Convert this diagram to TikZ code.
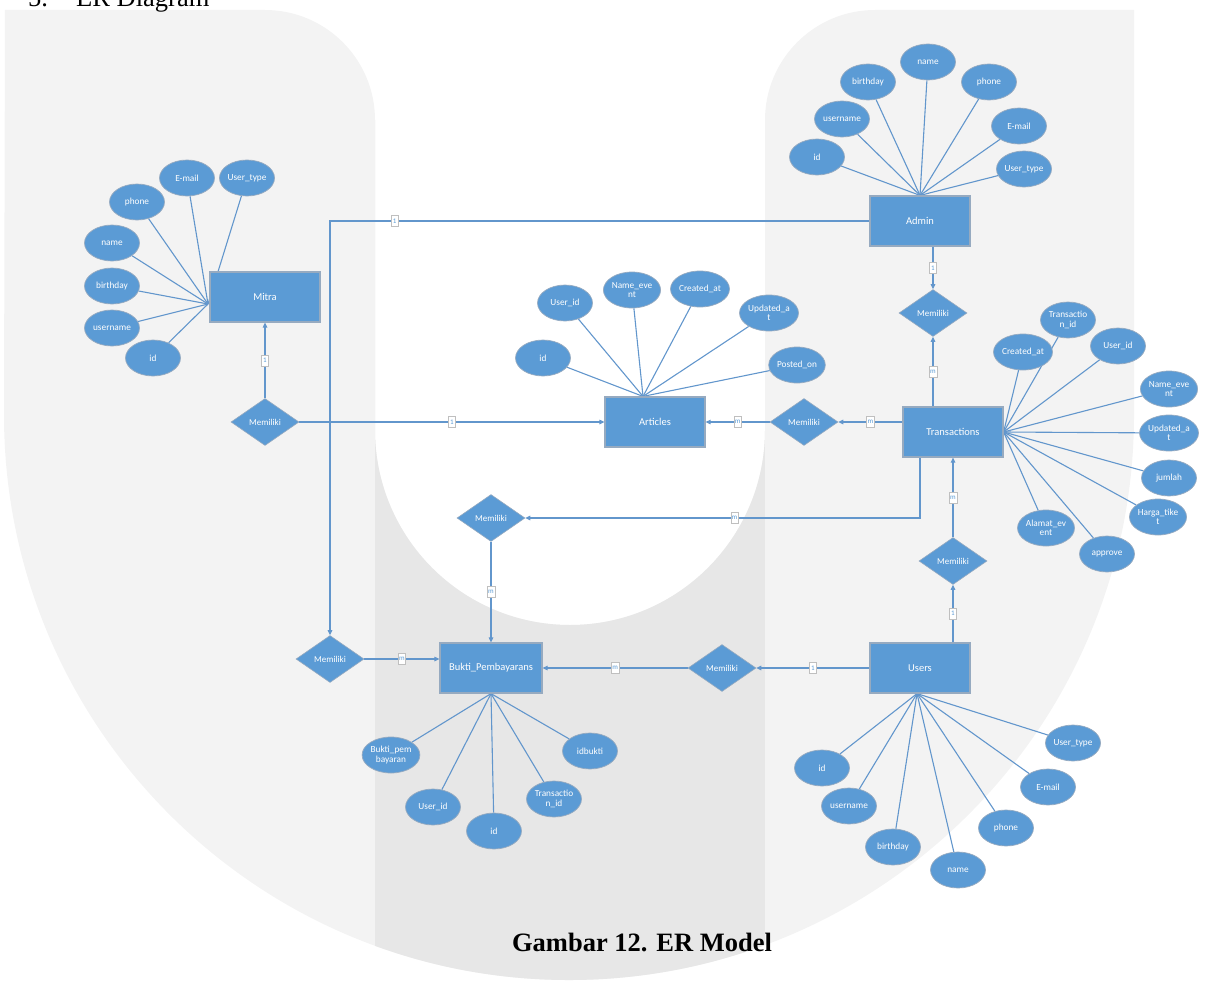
\documentclass[tikz,border=0pt]{standalone}
\usepackage{fontspec}
\setmainfont{Liberation Serif}
\newfontfamily\erfont{Carlito}
\usetikzlibrary{shapes.geometric,arrows.meta}
\definecolor{erblue}{RGB}{91,155,213}
\definecolor{erline}{RGB}{98,150,204}
\definecolor{eredge}{RGB}{150,170,192}
\definecolor{wmlight}{RGB}{243,243,243}
\definecolor{wmdark}{RGB}{231,231,231}
\pgfdeclarelayer{bg}
\pgfdeclarelayer{edges}
\pgfsetlayers{bg,edges,main}
% outline of the watermark behind the diagram
\def\wmpath{(5,10) -- (265,10) arc[start angle=90,end angle=0,radius=110pt]
  -- (375,430) arc[start angle=180,end angle=360,radius=195pt]
  -- (765,120) arc[start angle=180,end angle=90,radius=110pt]
  -- (1134,10) -- (1134,415) arc[start angle=0,end angle=-180,radius=565pt] -- cycle}
\begin{document}
\begin{tikzpicture}[x=1pt,y=-1pt,
  lbl/.style={text=white,font=\erfont\fontsize{10.5}{11}\selectfont},
  ent/.style={rectangle,fill=erblue,draw=eredge,line width=1.2pt,
    minimum width=100pt,minimum height=50pt,lbl},
  rel/.style={diamond,fill=erblue,draw=eredge,line width=0.6pt,inner sep=0pt,
    minimum width=68pt,minimum height=47pt,lbl,font=\erfont\fontsize{9}{10}\selectfont},
  attr/.style={ellipse,fill=erblue,draw=eredge,line width=0.7pt,inner sep=0pt,
    minimum width=55pt,minimum height=36pt,align=center,lbl,
    font=\erfont\fontsize{9.3}{9.5}\selectfont},
  link/.style={draw=erline,line width=1.1pt},
  conn/.style={link,-{Triangle[length=5pt,width=4.5pt]}},
  card/.style={fill=white,draw=black!25,line width=0.4pt,inner sep=1pt,
    text=erblue,font=\erfont\fontsize{7}{7}\selectfont,
    minimum width=7pt,minimum height=11pt}]
\useasboundingbox (0,0) rectangle (1206,982);

% watermark
\begin{pgfonlayer}{bg}
  \fill[wmlight] \wmpath;
  \begin{scope}
    \clip \wmpath;
    \fill[wmdark] (375,0) rectangle (765,982);
  \end{scope}
\end{pgfonlayer}

% heading and caption
\node[anchor=base west,inner sep=0pt,font=\fontsize{26.5}{30}\selectfont] (secno) at (28,6.5) {5.};
\node[anchor=base west,inner sep=0pt,font=\fontsize{26.5}{30}\selectfont] (sectitle) at (76,6.5) {ER Diagram};
\node[anchor=base,inner sep=0pt,font=\bfseries\fontsize{26.5}{30}\selectfont] (caption) at (642,951) {Gambar 12. ER Model};

% entities
\node[ent,minimum width=110pt] (mitra) at (265,297) {Mitra};
\node[ent] (admin) at (920,221) {Admin};
\node[ent] (articles) at (655,422) {Articles};
\node[ent] (trans) at (953,432) {Transactions};
\node[ent,minimum width=102pt] (bukti) at (491,668) {Bukti\_Pembayarans};
\node[ent] (users) at (920,668) {Users};

% relationships
\node[rel] (d1) at (265,422) {Memiliki};
\node[rel] (d2) at (933,313) {Memiliki};
\node[rel] (d3) at (804,422) {Memiliki};
\node[rel] (d4) at (491,518) {Memiliki};
\node[rel] (d5) at (953,561) {Memiliki};
\node[rel] (d6) at (330,659) {Memiliki};
\node[rel] (d7) at (722,668) {Memiliki};

% attributes of Mitra
\node[attr] (m1) at (187,178) {E-mail};
\node[attr] (m2) at (247,178) {User\_type};
\node[attr] (m3) at (137,202) {phone};
\node[attr] (m4) at (112,243) {name};
\node[attr] (m5) at (112,286) {birthday};
\node[attr] (m6) at (112,328) {username};
\node[attr] (m7) at (153,358) {id};
\coordinate (mhub) at (208,304);

% attributes of Admin
\node[attr] (a1) at (928,62) {name};
\node[attr] (a2) at (868,82) {birthday};
\node[attr] (a3) at (989,82) {phone};
\node[attr] (a4) at (842,119) {username};
\node[attr] (a5) at (1019,126) {E-mail};
\node[attr] (a6) at (817,157) {id};
\node[attr] (a7) at (1024,169) {User\_type};
\coordinate (ahub) at (admin.north);

% attributes of Articles
\node[attr] (r1) at (543,358) {id};
\node[attr] (r2) at (565,303) {User\_id};
\node[attr] (r3) at (632,290) {Name\_eve\\nt};
\node[attr] (r4) at (700,289) {Created\_at};
\node[attr] (r5) at (769,313) {Updated\_a\\t};
\node[attr] (r6) at (797,365) {Posted\_on};
\coordinate (rhub) at ([xshift=-12pt]articles.north);

% attributes of Transactions
\node[attr] (t1) at (1023,352) {Created\_at};
\node[attr] (t2) at (1068,320) {Transactio\\n\_id};
\node[attr] (t3) at (1118,346) {User\_id};
\node[attr] (t4) at (1169,389) {Name\_eve\\nt};
\node[attr] (t5) at (1169,433) {Updated\_a\\t};
\node[attr] (t6) at (1169,478) {jumlah};
\node[attr] (t7) at (1158,517) {Harga\_tike\\t};
\node[attr] (t8) at (1107,554) {approve};
\node[attr] (t9) at (1046,528) {Alamat\_ev\\ent};
\coordinate (thub) at (trans.east);

% attributes of Bukti_Pembayarans
\node[attr] (b1) at (391,755) {Bukti\_pem\\bayaran};
\node[attr] (b2) at (433,807) {User\_id};
\node[attr] (b3) at (494,831) {id};
\node[attr] (b4) at (554,799) {Transactio\\n\_id};
\node[attr] (b5) at (590,751) {idbukti};
\coordinate (bhub) at (bukti.south);

% attributes of Users
\node[attr] (u1) at (822,768) {id};
\node[attr] (u2) at (849,806) {username};
\node[attr] (u3) at (893,847) {birthday};
\node[attr] (u4) at (958,870) {name};
\node[attr] (u5) at (1006,828) {phone};
\node[attr] (u6) at (1048,787) {E-mail};
\node[attr] (u7) at (1073,743) {User\_type};
\coordinate (uhub) at ([xshift=-3pt]users.south);

\begin{pgfonlayer}{edges}
  % attribute links
  \foreach \n in {m1,m2,m3,m4,m5,m6,m7} \draw[link] (\n) -- (mhub);
  \foreach \n in {a1,a2,a3,a4,a5,a6,a7} \draw[link] (\n) -- (ahub);
  \foreach \n in {r1,r2,r3,r4,r5,r6} \draw[link] (\n) -- (rhub);
  \foreach \n in {t1,t2,t3,t4,t5,t6,t7,t8,t9} \draw[link] (\n) -- (thub);
  \foreach \n in {b1,b2,b3,b4,b5} \draw[link] (\n) -- (bhub);
  \foreach \n in {u1,u2,u3,u4,u5,u6,u7} \draw[link] (\n) -- (uhub);

  % relationship connectors
  \draw[conn] (d1) -- node[card]{1} (mitra);
  \draw[conn] (d1) -- node[card]{1} (articles);
  \draw[conn] (admin.west) -| node[card,pos=0.44]{1} (d6);
  \fill[erline] (d6 |- d1) circle[radius=1.8pt];
  \draw[conn] (admin.south -| d2) -- node[card]{1} (d2);
  \draw[conn] (trans.north -| d2) -- node[card]{m} (d2);
  \draw[conn] (trans.west |- d3) -- node[card]{m} (d3);
  \draw[conn] (d3) -- node[card]{m} (articles);
  \draw[conn] ([xshift=-33pt]trans.south) |- node[card,pos=0.735]{m} (d4);
  \draw[conn] (d4) -- node[card]{m} (bukti);
  \draw[conn] (d6) -- node[card]{m} (bukti.west |- d6);
  \draw[conn] (d7) -- node[card]{m} (bukti);
  \draw[conn] (users) -- node[card]{1} (d7);
  \draw[conn] (users.north -| d5) -- node[card]{1} (d5);
  \draw[conn] (d5) -- node[card]{m} (trans.south -| d5);
\end{pgfonlayer}
\end{tikzpicture}
\end{document}
